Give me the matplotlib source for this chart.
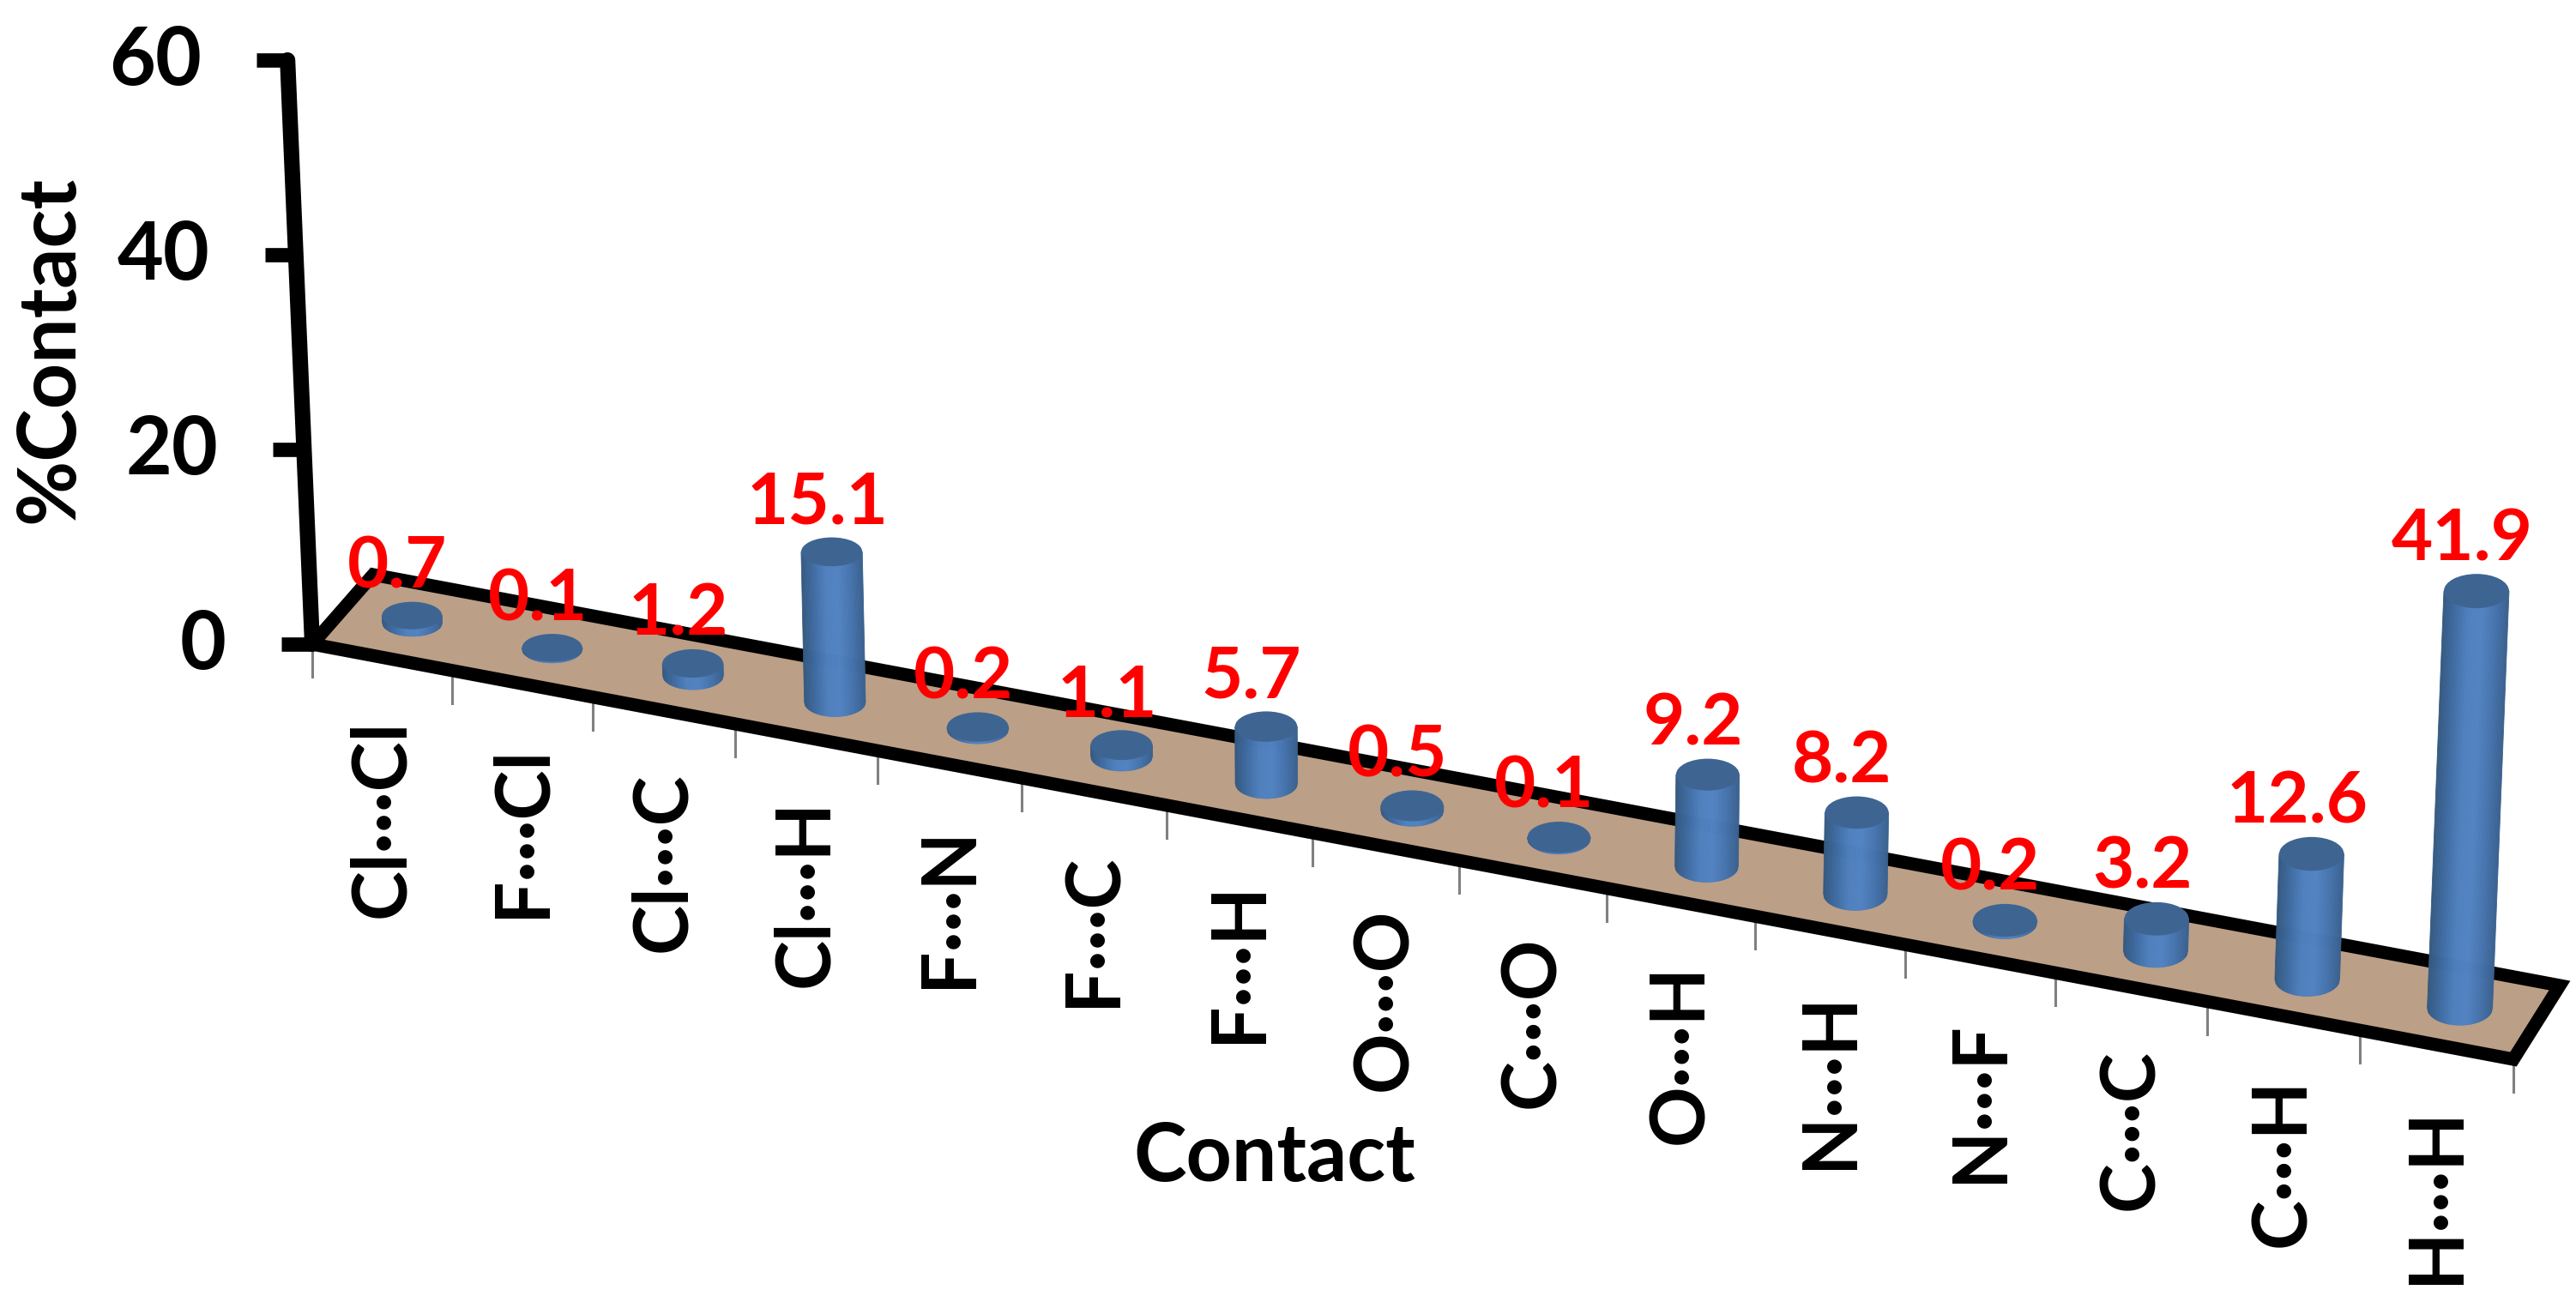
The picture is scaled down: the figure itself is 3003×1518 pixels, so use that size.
import matplotlib
matplotlib.use('Agg')
import matplotlib.pyplot as plt
from matplotlib.collections import PolyCollection
from matplotlib.colors import to_rgb
from matplotlib.patches import Ellipse, Polygon
import numpy as np

plt.rcParams['font.family'] = ['Lato', 'DejaVu Sans']

contacts = ['Cl···Cl', 'F···Cl', 'Cl···C', 'Cl···H', 'F···N', 'F···C', 'F···H', 'O···O',
            'C···O', 'O···H', 'N···H', 'N···F', 'C···C', 'C···H', 'H···H']
percent = [0.7, 0.1, 1.2, 15.1, 0.2, 1.1, 5.7, 0.5, 0.1, 9.2, 8.2, 0.2, 3.2, 12.6, 41.9]
y_ticks = [0, 20, 40, 60]

# floor corners in output pixels, the chart is a fake 3d one
FRONT_L = np.array([364.0, 751.0])
FRONT_R = np.array([2930.0, 1235.0])
BACK_L = np.array([435.0, 670.0])
BACK_R = np.array([2984.0, 1149.0])
AXIS_SCALE = 11.35
BAR_SCALE = 11.6
N = len(contacts)


def floor_point(u, v):
    # u runs along the categories, v from front edge to back edge
    w = u / N
    frac = w - 0.05 * w * (1 - w)
    front = FRONT_L + frac * (FRONT_R - FRONT_L)
    back = BACK_L + frac * (BACK_R - BACK_L)
    return front + v * (back - front)


def raise_point(p, z, scale):
    # verticals lean away from the middle of the picture
    lean = -0.48 + 0.94 * (p[0] - 364) / 2500
    return np.array([p[0] + lean * z, p[1] - scale * z])


def draw_cylinder(ax, base, top, rx, ry):
    shades = [to_rgb(c) for c in ['#35597F', '#3F6CA3', '#5080BE', '#5283C2', '#4674AE', '#3A618F']]
    stops = np.linspace(-1, 1, len(shades))
    t = np.linspace(-1, 1, 61)
    strips, colors = [], []
    for a, b in zip(t[:-1], t[1:]):
        low_a = ry * np.sqrt(1 - a * a)
        low_b = ry * np.sqrt(1 - b * b)
        strips.append([(base[0] + rx * a, base[1] + low_a), (base[0] + rx * b, base[1] + low_b),
                       (top[0] + rx * b, top[1]), (top[0] + rx * a, top[1])])
        m = (a + b) / 2
        colors.append([np.interp(m, stops, [s[k] for s in shades]) for k in range(3)])
    ax.add_collection(PolyCollection(strips, facecolors=colors, edgecolors=colors, linewidths=0.6, zorder=4))
    ax.add_patch(Ellipse(top, 2 * rx, 2 * ry, facecolor='#3E6591', edgecolor='none', zorder=5))


fig = plt.figure(figsize=(30.03, 15.18), dpi=100)
ax = fig.add_axes([0, 0, 1, 1])
ax.set_xlim(0, 3003)
ax.set_ylim(1518, 0)
ax.axis('off')

# floor
ax.add_patch(Polygon([FRONT_L, FRONT_R, BACK_R, BACK_L], closed=True, facecolor='#BB9F87',
                     edgecolor='black', linewidth=11, joinstyle='miter', zorder=2))

# category ticks and labels
for i in range(N + 1):
    p = floor_point(i, 0)
    ax.plot([p[0], p[0]], [p[1] + 4, p[1] + 38], color='#808080', linewidth=2.2, zorder=1)
for i, name in enumerate(contacts):
    p = floor_point(i + 0.5, 0)
    ax.text(p[0], p[1] + 72, name, rotation=90, ha='center', va='top', fontsize=63,
            fontweight='bold', color='black', zorder=3)

# value axis
axis_base = floor_point(0, 0)
axis_top = raise_point(axis_base, y_ticks[-1], AXIS_SCALE)
ax.plot([axis_base[0], axis_top[0]], [axis_base[1], axis_top[1]], color='black', linewidth=13,
        solid_capstyle='round', zorder=3)
for tick in y_ticks:
    p = raise_point(axis_base, tick, AXIS_SCALE)
    ax.plot([p[0] - 36, p[0]], [p[1], p[1]], color='black', linewidth=12, solid_capstyle='butt', zorder=3)
    ax.text(p[0] - 100, p[1] + 2, str(tick), ha='right', va='center', fontsize=67, fontweight='bold', color='black')

# cylinders with the value above each
for i, value in enumerate(percent):
    base = floor_point(i + 0.5, 0.5)
    top = raise_point(base, value, BAR_SCALE)
    frac = i / (N - 1)
    rx = 35 + 3 * frac
    ry = 16 + 4 * frac
    draw_cylinder(ax, base, top, rx, ry)
    ax.text(top[0] - 17, top[1] - ry - 16, f'{value:.1f}', ha='center', va='baseline', fontsize=60,
            fontweight='bold', color='#FF0000', zorder=6)

ax.text(58, 408, '%Contact', rotation=90, ha='center', va='center', fontsize=67, fontweight='bold', color='black')
ax.text(1486, 1350, 'Contact', ha='center', va='center', fontsize=67, fontweight='bold', color='black')

fig.savefig('out.png', dpi=100)
